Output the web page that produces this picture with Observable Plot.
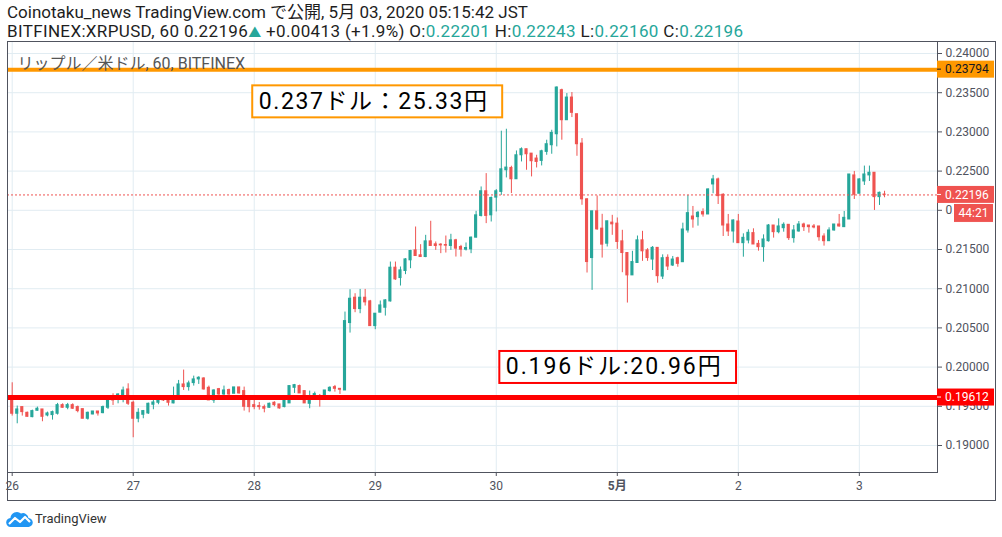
<!DOCTYPE html>
<html><head><meta charset="utf-8">
<script src="https://cdn.jsdelivr.net/npm/d3@7"></script>
<script src="https://cdn.jsdelivr.net/npm/@observablehq/plot@0.6"></script>
<style>
html,body{margin:0;padding:0;background:#fff;}
#wrap{position:relative;width:1002px;height:537px;overflow:hidden;font-family:Roboto,"Noto Sans CJK JP",sans-serif;}
.hd{position:absolute;left:7px;font-size:17px;line-height:19px;color:#1e1e1e;white-space:nowrap;}
.up{color:#26a69a;}
#chart{position:absolute;left:0;top:41px;}
#logo{position:absolute;left:6px;top:510px;display:flex;align-items:center;font-size:13px;color:#333;}
</style></head>
<body><div id="wrap">
<div class="hd" style="top:3px">Coinotaku_news TradingView.com で公開, 5月 03, 2020 05:15:42 JST</div>
<div class="hd" style="top:22px;letter-spacing:0.35px">BITFINEX:XRPUSD, 60 0.22196<span class="up" style="font-size:13px">▲</span> +0.00413 (+1.9%) O:<span class="up">0.22201</span> H:<span class="up">0.22243</span> L:<span class="up">0.22160</span> C:<span class="up">0.22196</span></div>
<div id="chart"></div>
<div id="logo"><svg width="27" height="17" viewBox="0 0 27 17"><path d="M5 17a4.5 4.5 0 0 1-.6-9A6.5 6.5 0 0 1 15 3.5a5.5 5.5 0 0 1 7.5 4.5A4.5 4.5 0 0 1 22 17z" fill="#2196f3"/><path d="M3 14l6-6 5 4 5-5 5 5" stroke="#fff" stroke-width="2.2" fill="none" stroke-linejoin="round"/></svg><span style="margin-left:2px">TradingView</span></div>
</div>
<script>
// ---- data (BITFINEX:XRPUSD, 60 min, from 2020-04-26 00:00) ----
const START = "2020-04-26T00:00:00Z";
const opens = [0.19622,0.19405,0.19490,0.19417,0.19362,0.19443,0.19460,0.19383,0.19388,0.19405,
0.19515,0.19481,0.19515,0.19490,0.19464,0.19341,0.19396,0.19434,0.19413,0.19481,
0.19609,0.19609,0.19622,0.19715,0.19545,0.19341,0.19392,0.19409,0.19520,0.19545,
0.19600,0.19596,0.19537,0.19600,0.19779,0.19745,0.19796,0.19843,0.19855,0.19736,
0.19575,0.19719,0.19651,0.19707,0.19660,0.19741,0.19694,0.19617,0.19515,0.19503,
0.19490,0.19481,0.19545,0.19524,0.19490,0.19537,0.19736,0.19758,0.19694,0.19532,
0.19583,0.19630,0.19588,0.19694,0.19745,0.19723,
0.19702,0.20562,0.20885,0.20740,0.20885,0.20838,0.20523,0.20694,0.20757,0.20838,
0.21268,0.21136,0.21226,0.21362,0.21489,0.21426,0.21404,0.21604,0.21566,0.21562,
0.21557,0.21545,0.21617,0.21532,0.21498,0.21502,0.21651,0.21928,0.22243,0.21936,
0.22162,
0.22234,0.22511,0.22540,0.22396,0.22702,0.22779,0.22723,0.22660,0.22630,0.22745,
0.22830,0.22970,0.23532,0.23149,0.23438,0.23226,0.22851,0.22140,0.21391,0.21987,
0.21766,0.21574,0.21843,0.21830,0.21604,0.21455,0.21170,0.21328,0.21617,0.21489,
0.21372,0.21521,0.21155,0.21394,0.21296,0.21389,0.21338,0.21743,0.21921,0.21913,
0.21977,0.21947,0.22330,0.22394,0.22198,0.21819,0.21730,0.21857,0.21581,0.21615,
0.21709,0.21572,0.21530,0.21606,0.21806,0.21721,0.21772,0.21815,0.21645,
0.21730,0.21819,0.21806,0.21794,0.21794,0.21666,0.21606,0.21743,0.21819,0.21785,
0.21883,0.22445,0.22211,0.22368,0.22445,0.22479,0.22168,0.22201];
const highs = [0.19800,0.19503,0.19490,0.19426,0.19451,0.19490,0.19460,0.19426,0.19439,0.19537,
0.19532,0.19537,0.19532,0.19503,0.19464,0.19426,0.19434,0.19434,0.19503,0.19609,
0.19660,0.19660,0.19745,0.19787,0.19566,0.19469,0.19447,0.19541,0.19600,0.19596,
0.19609,0.19630,0.19745,0.19830,0.19962,0.19821,0.19885,0.19877,0.19864,0.19758,
0.19711,0.19728,0.19758,0.19719,0.19741,0.19741,0.19745,0.19617,0.19575,0.19549,
0.19515,0.19541,0.19558,0.19524,0.19588,0.19758,0.19779,0.19770,0.19694,0.19694,
0.19681,0.19651,0.19702,0.19749,0.19766,0.19723,
0.20702,0.20987,0.20936,0.20991,0.20991,0.20851,0.20681,0.20843,0.20860,0.21340,
0.21340,0.21277,0.21383,0.21489,0.21787,0.21562,0.21681,0.21860,0.21596,0.21574,
0.21672,0.21694,0.21630,0.21553,0.21583,0.21660,0.21987,0.22298,0.22468,0.22170,
0.22264,
0.23009,0.23034,0.22562,0.22757,0.22796,0.22779,0.22723,0.22702,0.22766,0.22894,
0.23021,0.23574,0.23545,0.23489,0.23502,0.23226,0.22915,0.22149,0.21987,0.22183,
0.21949,0.21860,0.21936,0.21902,0.21745,0.21455,0.21477,0.21672,0.21732,0.21511,
0.21538,0.21521,0.21432,0.21432,0.21411,0.21402,0.21836,0.22190,0.22049,0.21985,
0.22019,0.22274,0.22445,0.22411,0.22211,0.21947,0.21879,0.21947,0.21700,0.21751,
0.21764,0.21615,0.21687,0.21819,0.21806,0.21891,0.21840,0.21815,0.21806,
0.21857,0.21836,0.21806,0.21819,0.21794,0.21700,0.21777,0.21819,0.21947,0.21985,
0.22457,0.22496,0.22402,0.22564,0.22564,0.22479,0.22232,0.22243];
const lows = [0.19375,0.19277,0.19375,0.19362,0.19354,0.19439,0.19303,0.19366,0.19324,0.19388,
0.19477,0.19456,0.19460,0.19417,0.19341,0.19324,0.19392,0.19375,0.19405,0.19460,
0.19511,0.19532,0.19545,0.19511,0.19099,0.19290,0.19341,0.19396,0.19456,0.19520,
0.19562,0.19503,0.19532,0.19596,0.19702,0.19694,0.19758,0.19779,0.19707,0.19575,
0.19537,0.19634,0.19630,0.19630,0.19660,0.19656,0.19439,0.19417,0.19456,0.19451,
0.19417,0.19477,0.19494,0.19464,0.19481,0.19537,0.19664,0.19664,0.19537,0.19469,
0.19575,0.19490,0.19583,0.19681,0.19681,0.19651,
0.19702,0.20434,0.20694,0.20681,0.20779,0.20523,0.20477,0.20694,0.20651,0.20830,
0.21106,0.21034,0.21179,0.21255,0.21413,0.21404,0.21396,0.21545,0.21489,0.21447,
0.21455,0.21489,0.21404,0.21404,0.21481,0.21447,0.21647,0.21915,0.21830,0.21851,
0.21979,
0.22191,0.22413,0.22213,0.22396,0.22617,0.22511,0.22426,0.22540,0.22566,0.22702,
0.22715,0.22809,0.22894,0.23149,0.23183,0.22689,0.22064,0.21200,0.20979,0.21745,
0.21391,0.21532,0.21681,0.21502,0.21204,0.20817,0.21170,0.21328,0.21349,0.21349,
0.21232,0.21070,0.21117,0.21232,0.21283,0.21274,0.21338,0.21709,0.21772,0.21798,
0.21913,0.21947,0.22211,0.22074,0.21666,0.21666,0.21581,0.21581,0.21402,0.21572,
0.21564,0.21479,0.21338,0.21594,0.21645,0.21700,0.21721,0.21615,0.21581,
0.21721,0.21730,0.21709,0.21764,0.21606,0.21543,0.21606,0.21734,0.21785,0.21785,
0.21883,0.22138,0.22211,0.22317,0.22368,0.21998,0.22062,0.22160];
const closes = [0.19405,0.19460,0.19426,0.19366,0.19439,0.19469,0.19366,0.19409,0.19426,0.19515,
0.19481,0.19515,0.19469,0.19439,0.19341,0.19417,0.19434,0.19409,0.19490,0.19600,
0.19575,0.19651,0.19702,0.19532,0.19341,0.19417,0.19439,0.19532,0.19549,0.19583,
0.19575,0.19545,0.19600,0.19779,0.19745,0.19792,0.19843,0.19864,0.19715,0.19575,
0.19702,0.19651,0.19702,0.19651,0.19741,0.19664,0.19494,0.19490,0.19490,0.19490,
0.19469,0.19532,0.19515,0.19473,0.19575,0.19758,0.19770,0.19664,0.19537,0.19596,
0.19656,0.19609,0.19702,0.19736,0.19723,0.19711,
0.20587,0.20872,0.20740,0.20885,0.20826,0.20523,0.20681,0.20787,0.20851,0.21268,
0.21119,0.21234,0.21374,0.21481,0.21417,0.21404,0.21604,0.21545,0.21545,0.21553,
0.21549,0.21617,0.21511,0.21498,0.21519,0.21651,0.21936,0.22243,0.21928,0.22157,
0.22243,
0.22523,0.22545,0.22396,0.22702,0.22779,0.22715,0.22626,0.22617,0.22753,0.22843,
0.22987,0.23566,0.23149,0.23438,0.23243,0.22843,0.22140,0.21340,0.21987,0.21757,
0.21562,0.21860,0.21821,0.21596,0.21455,0.21170,0.21340,0.21617,0.21477,0.21391,
0.21521,0.21160,0.21389,0.21283,0.21372,0.21317,0.21755,0.21964,0.21883,0.21968,
0.21947,0.22266,0.22394,0.22181,0.21806,0.21730,0.21870,0.21581,0.21649,0.21713,
0.21564,0.21530,0.21628,0.21806,0.21721,0.21794,0.21815,0.21645,0.21743,
0.21819,0.21785,0.21785,0.21781,0.21657,0.21606,0.21743,0.21819,0.21794,0.21904,
0.22457,0.22198,0.22394,0.22457,0.22479,0.22168,0.22223,0.22196];

const dayTicks = ["2020-04-26","2020-04-27","2020-04-28","2020-04-29","2020-04-30","2020-05-01","2020-05-02","2020-05-03"];
const dayLabels = ["26","27","28","29","30","5月","2","3"];
const priceTicks = [0.19,0.195,0.20,0.205,0.21,0.215,0.22,0.225,0.23,0.235,0.24];
const orangeLevel = 0.23794;
const redLevel = 0.19612;
const lastPrice = 0.22196;
const countdown = "44:21";
const legendText = "リップル／米ドル, 60, BITFINEX";
const noteTexts = ["0.237ドル：25.33円", "0.196ドル:20.96円"];
const noteTimes = ["2020-04-28T00:00:00Z", "2020-04-30T01:00:00Z"];
const notePrices = [0.23388, 0.2000];
const noteColors = ["#ff9800", "#ff0000"];
const noteSpacing = [1.6, 1.9];

const UP = "#26a69a", DOWN = "#ef5350", GRID = "#e1ecf2", AXIS = "#50535e";

// ---- build table ----
const t0 = new Date(START);
const H = 3600e3;
const candles = opens.map((o, i) => ({date: d3.utcHour.offset(t0, i), open: o, high: highs[i], low: lows[i], close: closes[i]}));
const ups = candles.filter(d => d.close >= d.open);
const downs = candles.filter(d => d.close < d.open);
const dayDates = dayTicks.map(s => new Date(s + "T00:00:00Z"));
const labelMap = new Map(dayDates.map((d, i) => [+d, dayLabels[i]]));
const notes = noteTexts.map((t, i) => ({text: t, date: new Date(noteTimes[i]), price: notePrices[i], color: noteColors[i], ls: noteSpacing[i]}));

const bodyX1 = d => new Date(+d.date - 0.31 * H);
const bodyX2 = d => new Date(+d.date + 0.31 * H);

const chart = Plot.plot({
  width: 1002, height: 460,
  marginLeft: 7, marginRight: 65, marginTop: 0, marginBottom: 29,
  style: {fontFamily: "Roboto, 'Noto Sans CJK JP', sans-serif", fontSize: "12px", color: AXIS, background: "transparent", overflow: "visible"},
  x: {type: "utc", domain: [new Date(+t0 - 0.93 * H), new Date(+t0 + 183.5 * H)], ticks: dayDates, tickFormat: d => labelMap.get(+d) ?? "", tickSize: 4, tickPadding: 5, label: null},
  y: {domain: [0.186557, 0.241531], axis: "right", ticks: priceTicks, tickFormat: d3.format(".5f"), tickSize: 4, tickPadding: 4, label: null},
  marks: [
    Plot.ruleY(priceTicks, {stroke: GRID}),
    Plot.ruleX(dayDates, {stroke: GRID}),
    Plot.ruleX(ups, {x: "date", y1: "low", y2: "high", stroke: UP, strokeWidth: 1}),
    Plot.ruleX(downs, {x: "date", y1: "low", y2: "high", stroke: DOWN, strokeWidth: 1}),
    Plot.rect(ups, {x1: bodyX1, x2: bodyX2, y1: "open", y2: "close", fill: UP, insetTop: -0.5, insetBottom: -0.5}),
    Plot.rect(downs, {x1: bodyX1, x2: bodyX2, y1: "open", y2: "close", fill: DOWN, insetTop: -0.5, insetBottom: -0.5}),
    Plot.ruleY([lastPrice], {stroke: DOWN, strokeWidth: 1, strokeDasharray: "2,2"}),
    Plot.ruleY([orangeLevel], {stroke: "#ff9800", strokeWidth: 4}),
    Plot.ruleY([redLevel], {stroke: "#ff0000", strokeWidth: 5}),
    Plot.text([legendText], {text: d => d, frameAnchor: "top-left", dx: 10, dy: 22.5, lineAnchor: "middle", textAnchor: "start", fill: "#555", fontSize: 16}),
    Plot.text(notes, {x: "date", y: "price", text: "text", textAnchor: "start", lineAnchor: "middle", dx: 4.5, fill: "#000", fontSize: 23}),
    Plot.frame({stroke: AXIS})
  ]
});
document.getElementById("chart").appendChild(chart);

// ---- post: boxes and price tags using the plot's own y scale ----
const svg = d3.select(chart);
const ySc = chart.scale("y");
const yS = d3.scaleLinear(ySc.domain, ySc.range);

svg.append("rect").attr("x", 7.5).attr("y", 0.5).attr("width", 988).attr("height", 459)
  .attr("fill", "none").attr("stroke", AXIS);

svg.selectAll("text").filter(function() { return this.textContent === "5月"; }).attr("font-weight", "bold");

svg.selectAll("text").each(function() {
  const i = noteTexts.indexOf(this.textContent);
  if (i < 0) return;
  const n = notes[i];
  this.style.letterSpacing = n.ls + "px";
  const b = this.getBBox();
  const r = document.createElementNS("http://www.w3.org/2000/svg", "rect");
  const tf = this.getAttribute("transform");
  if (tf) r.setAttribute("transform", tf);
  r.setAttribute("x", b.x - 6.5);
  r.setAttribute("y", b.y + b.height / 2 - 16);
  r.setAttribute("width", b.width + 20);
  r.setAttribute("height", 32);
  r.setAttribute("fill", "#fff");
  r.setAttribute("stroke", n.color);
  r.setAttribute("stroke-width", 2);
  this.parentNode.insertBefore(r, this);
});

const tags = [
  {v: orangeLevel, fill: "#ff9800", color: "#131722"},
  {v: lastPrice, fill: DOWN, color: "#fff"},
  {v: redLevel, fill: "#ff0000", color: "#fff"}
];
const tg = svg.append("g").attr("font-family", "Roboto, sans-serif").attr("font-size", 12).attr("text-anchor", "start");
for (const t of tags) {
  const cy = yS(t.v);
  tg.append("rect").attr("x", 937).attr("y", cy - 8.5).attr("width", 57).attr("height", 17).attr("fill", t.fill);
  tg.append("line").attr("x1", 937).attr("x2", 941).attr("y1", cy).attr("y2", cy).attr("stroke", t.color);
  tg.append("text").attr("x", 945).attr("y", cy).attr("dy", "0.35em").attr("text-anchor", "start").attr("fill", t.color).text(d3.format(".5f")(t.v));
}
const cyl = yS(lastPrice);
tg.append("rect").attr("x", 953.5).attr("y", cyl + 9).attr("width", 40).attr("height", 19).attr("fill", DOWN).attr("stroke", "#fff");
tg.append("text").attr("x", 973.5).attr("y", cyl + 18.5).attr("dy", "0.35em").attr("text-anchor", "middle").attr("fill", "#fff").text(countdown);
</script>
</body></html>
